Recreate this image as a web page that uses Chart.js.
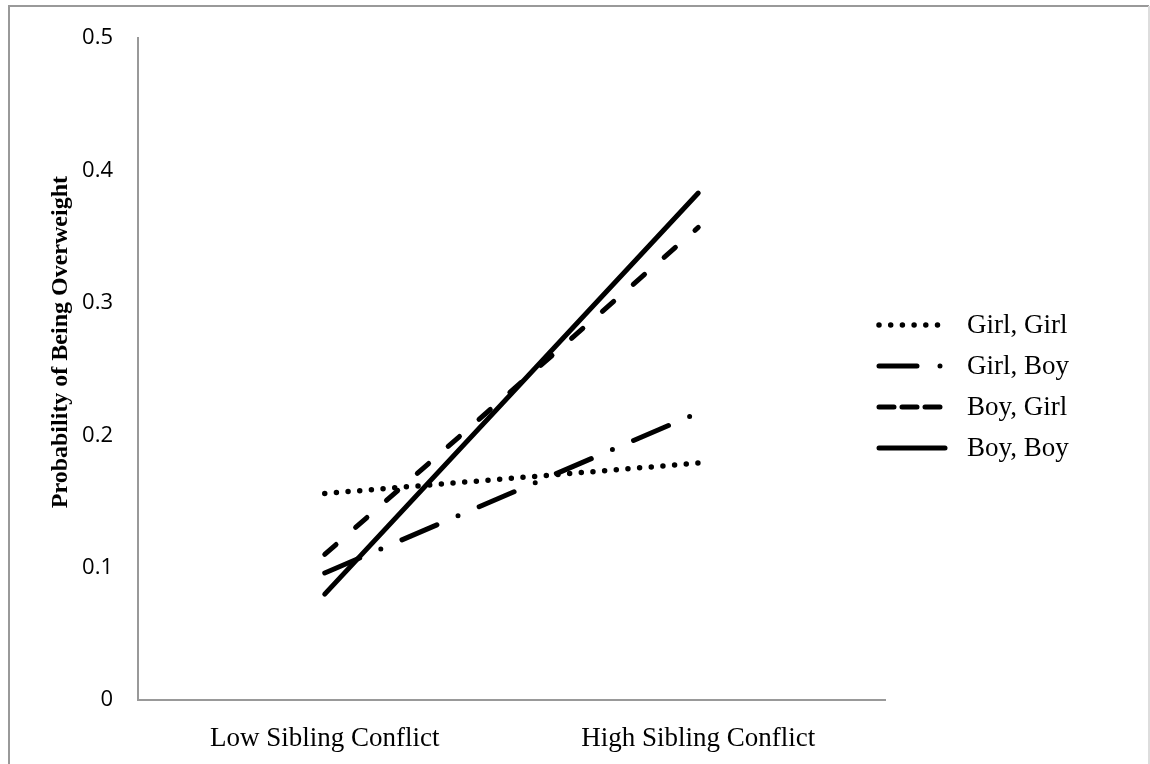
<!DOCTYPE html>
<html>
<head>
<meta charset="utf-8">
<script src="https://cdn.jsdelivr.net/npm/chart.js@4"></script>
<style>
    body { margin: 0; background: #fff; }
    #wrap { position: relative; width: 1150px; height: 764px; }
</style>
</head>
<body>
<div id="wrap"><canvas id="chart"></canvas></div>
<script>
// Categories and series values (probability of being overweight)
const categories = ['Low Sibling Conflict', 'High Sibling Conflict'];
const seriesNames = ['Girl, Girl', 'Girl, Boy', 'Boy, Girl', 'Boy, Boy'];
const girlGirl = [0.156, 0.179];
const girlBoy = [0.096, 0.217];
const boyGirl = [0.110, 0.357];
const boyBoy = [0.080, 0.383];
const yTicks = [0, 0.1, 0.2, 0.3, 0.4, 0.5];

const serif = '"Liberation Serif", "Times New Roman", serif';

function series(label, data, width, dash, legendDash) {
    return {
        label: label,
        data: data,
        borderColor: '#000',
        backgroundColor: '#000',
        borderWidth: width,
        borderDash: dash,
        borderCapStyle: 'round',
        pointRadius: 0,
        tension: 0,
        fill: false,
        legendDash: legendDash
    };
}

// draws the light frame round the picture
const framePlugin = {
    id: 'frame',
    beforeDraw(chart) {
        const ctx = chart.ctx;
        ctx.save();
        ctx.lineWidth = 2;
        ctx.strokeStyle = '#999';
        ctx.beginPath();
        ctx.moveTo(9, 800);
        ctx.lineTo(9, 6);
        ctx.lineTo(1149, 6);
        ctx.stroke();
        ctx.strokeStyle = '#ddd';
        ctx.beginPath();
        ctx.moveTo(1149, 6);
        ctx.lineTo(1149, 800);
        ctx.stroke();
        ctx.restore();
    }
};

// legend on the right with the line styles of each series
const lineLegend = {
    id: 'lineLegend',
    afterDraw(chart) {
        const ctx = chart.ctx;
        ctx.save();
        chart.data.datasets.forEach((ds, i) => {
            const y = 325 + i * 41;
            ctx.strokeStyle = ds.borderColor;
            ctx.lineWidth = ds.borderWidth;
            ctx.lineCap = 'round';
            ctx.setLineDash(ds.legendDash);
            ctx.beginPath();
            ctx.moveTo(879, y);
            ctx.lineTo(945, y);
            ctx.stroke();
            ctx.setLineDash([]);
            ctx.fillStyle = '#000';
            ctx.font = '27px ' + serif;
            ctx.textAlign = 'left';
            ctx.textBaseline = 'middle';
            ctx.fillText(ds.label, 967, y + 1);
        });
        ctx.restore();
    }
};

const chart = new Chart(document.getElementById('chart'), {
    type: 'line',
    data: {
        labels: categories,
        datasets: [
            series(seriesNames[0], girlGirl, 5.5, [0, 11.7], [0, 11.7]),
            series(seriesNames[1], girlBoy, 5, [38, 23, 0, 23], [38, 23, 0, 60]),
            series(seriesNames[2], boyGirl, 5, [15, 26], [15, 8]),
            series(seriesNames[3], boyBoy, 5, [], [])
        ]
    },
    options: {
        responsive: true,
        maintainAspectRatio: false,
        animation: false,
        devicePixelRatio: 1,
        layout: {
            padding: { top: 38, right: 265, bottom: 0, left: 0 }
        },
        plugins: {
            legend: { display: false },
            tooltip: { enabled: false }
        },
        scales: {
            x: {
                offset: true,
                grid: { display: false, drawTicks: false },
                border: { display: true, color: '#999', width: 2 },
                ticks: {
                    color: '#000',
                    padding: 23,
                    maxRotation: 0,
                    font: { family: serif, size: 27 }
                },
                afterFit(scale) { scale.height = 64; }
            },
            y: {
                min: 0,
                max: 0.5,
                afterBuildTicks(scale) {
                    scale.ticks = yTicks.map(v => ({ value: v }));
                },
                grid: { display: false, drawTicks: false },
                border: { display: true, color: '#999', width: 2 },
                ticks: {
                    color: '#000',
                    padding: 25,
                    font: { family: '"Open Sans", sans-serif', size: 22 },
                    callback: v => String(v)
                },
                title: {
                    display: true,
                    // leading spaces lift the title a little above the plot centre, as in the original
                    text: '\u00a0'.repeat(9) + 'Probability of Being Overweight',
                    color: '#000',
                    padding: { top: 46, bottom: 0 },
                    font: { family: serif, size: 24, weight: 'bold' }
                },
                afterFit(scale) { scale.width = 138; }
            }
        }
    },
    plugins: [framePlugin, lineLegend]
});
</script>
</body>
</html>
